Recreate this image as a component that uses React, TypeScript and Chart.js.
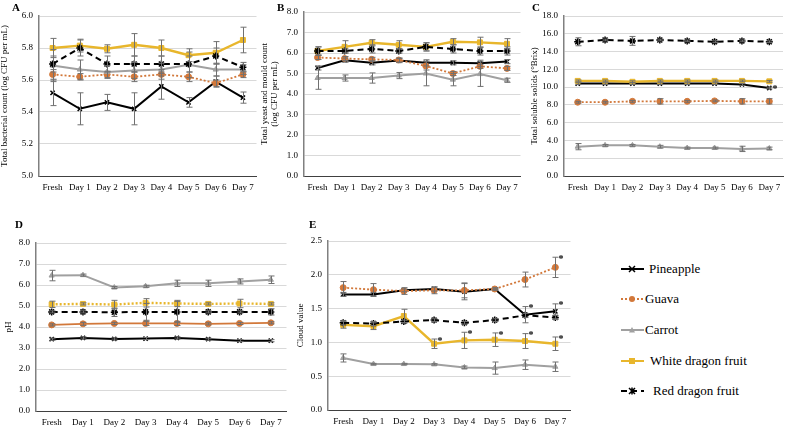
import React, { useEffect, useRef } from 'react';
import { Chart, registerables } from 'chart.js';
Chart.register(...registerables);

const FONT = '"Liberation Serif", "Times New Roman", serif';

// ---- categories / labels ----
const days = ['Fresh', 'Day 1', 'Day 2', 'Day 3', 'Day 4', 'Day 5', 'Day 6', 'Day 7'];
const seriesNames = ['Pineapple', 'Guava', 'Carrot', 'White dragon fruit', 'Red dragon fruit'];

// ---- Panel A: total bacterial count ----
const aPine = [5.52, 5.42, 5.46, 5.42, 5.56, 5.46, 5.59, 5.49];
const aPineErr = [0.08, 0.1, 0.05, 0.1, 0.08, 0.03, 0.035, 0.035];
const aGuava = [5.635, 5.62, 5.635, 5.62, 5.635, 5.62, 5.58, 5.635];
const aGuavaErr = [0.03, 0.02, 0.02, 0.03, 0.03, 0.03, 0.02, 0.02];
const aCarrot = [5.69, 5.665, 5.65, 5.66, 5.665, 5.695, 5.665, 5.665];
const aCarrotErr = [0.1, 0.06, 0.04, 0.05, 0.04, 0.08, 0.04, 0.03];
const aWhite = [5.8, 5.815, 5.795, 5.82, 5.8, 5.755, 5.77, 5.85];
const aWhiteErr = [0.06, 0.04, 0.025, 0.07, 0.05, 0.04, 0.07, 0.08];
const aRed = [5.7, 5.8, 5.7, 5.7, 5.7, 5.7, 5.75, 5.68];
const aRedErr = [0.05, 0.05, 0.05, 0.05, 0.05, 0.05, 0.05, 0.03];

// ---- Panel B: total yeast and mould count ----
const bPine = [5.27, 5.65, 5.52, 5.63, 5.52, 5.52, 5.5, 5.58];
const bPineErr = [0.1, 0.1, 0.1, 0.1, 0.15, 0.1, 0.15, 0.1];
const bGuava = [5.78, 5.73, 5.69, 5.66, 5.37, 5.0, 5.35, 5.25];
const bGuavaErr = [0.1, 0.1, 0.1, 0.1, 0.2, 0.1, 0.1, 0.1];
const bCarrot = [4.78, 4.78, 4.78, 4.9, 5.0, 4.7, 4.97, 4.67];
const bCarrotErr = [0.55, 0.15, 0.25, 0.15, 0.6, 0.3, 0.6, 0.1];
const bWhite = [6.1, 6.3, 6.5, 6.4, 6.3, 6.55, 6.52, 6.45];
const bWhiteErr = [0.2, 0.3, 0.15, 0.2, 0.2, 0.15, 0.25, 0.25];
const bRed = [6.1, 6.1, 6.2, 6.1, 6.3, 6.2, 6.1, 6.1];
const bRedErr = [0.2, 0.1, 0.2, 0.1, 0.2, 0.2, 0.2, 0.2];

// ---- Panel C: total soluble solids ----
const cPine = [10.4, 10.4, 10.4, 10.4, 10.4, 10.4, 10.3, 9.9];
const cPineErr = [0.1, 0.1, 0.1, 0.1, 0.1, 0.1, 0.1, 0.1];
const cGuava = [8.3, 8.3, 8.4, 8.4, 8.4, 8.45, 8.4, 8.4];
const cGuavaErr = [0.1, 0.1, 0.1, 0.3, 0.1, 0.1, 0.3, 0.3];
const cCarrot = [3.3, 3.45, 3.45, 3.3, 3.15, 3.15, 3.05, 3.1];
const cCarrotErr = [0.35, 0.1, 0.1, 0.15, 0.1, 0.1, 0.3, 0.15];
const cWhite = [10.7, 10.7, 10.6, 10.7, 10.7, 10.7, 10.7, 10.65];
const cWhiteErr = [0.1, 0.1, 0.1, 0.1, 0.1, 0.1, 0.1, 0.1];
const cRed = [15.1, 15.3, 15.2, 15.3, 15.2, 15.1, 15.2, 15.1];
const cRedErr = [0.45, 0.1, 0.5, 0.1, 0.1, 0.1, 0.1, 0.1];
const cPineStars = [7];

// ---- Panel D: pH ----
const dPine = [3.42, 3.48, 3.43, 3.45, 3.48, 3.42, 3.35, 3.35];
const dPineErr = [0.05, 0.05, 0.05, 0.05, 0.05, 0.05, 0.05, 0.05];
const dGuava = [4.1, 4.15, 4.17, 4.17, 4.17, 4.15, 4.17, 4.2];
const dGuavaErr = [0.05, 0.07, 0.05, 0.1, 0.1, 0.05, 0.05, 0.05];
const dCarrot = [6.45, 6.47, 5.88, 5.94, 6.08, 6.08, 6.17, 6.25];
const dCarrotErr = [0.25, 0.05, 0.05, 0.05, 0.15, 0.15, 0.12, 0.18];
const dWhite = [5.08, 5.1, 5.07, 5.15, 5.12, 5.1, 5.12, 5.1];
const dWhiteErr = [0.15, 0.05, 0.2, 0.2, 0.15, 0.05, 0.2, 0.05];
const dRed = [4.72, 4.72, 4.7, 4.72, 4.72, 4.72, 4.72, 4.72];
const dRedErr = [0.05, 0.05, 0.2, 0.4, 0.5, 0.05, 0.05, 0.15];

// ---- Panel E: cloud value ----
const ePine = [1.71, 1.71, 1.77, 1.79, 1.75, 1.79, 1.41, 1.46];
const ePineErr = [0.03, 0.03, 0.02, 0.03, 0.12, 0.01, 0.12, 0.11];
const eGuava = [1.81, 1.78, 1.76, 1.77, 1.77, 1.79, 1.93, 2.11];
const eGuavaErr = [0.09, 0.09, 0.05, 0.05, 0.11, 0.02, 0.11, 0.15];
const eCarrot = [0.77, 0.68, 0.68, 0.675, 0.63, 0.62, 0.67, 0.64];
const eCarrotErr = [0.06, 0.01, 0.01, 0.01, 0.02, 0.09, 0.07, 0.07];
const eWhite = [1.26, 1.24, 1.39, 0.98, 1.03, 1.04, 1.02, 0.98];
const eWhiteErr = [0.05, 0.05, 0.1, 0.07, 0.12, 0.1, 0.11, 0.1];
const eRed = [1.29, 1.28, 1.31, 1.33, 1.29, 1.33, 1.4, 1.37];
const eRedErr = [0.03, 0.03, 0.02, 0.02, 0.02, 0.02, 0.03, 0.03];
const ePineStars = [6, 7];
const eGuavaStars = [7];
const eWhiteStars = [3, 4, 5, 6, 7];

// ---- styles ----
const BLACK = '#000000';
const ORANGE = '#D2783A';
const GRAY = '#A0A0A0';
const YELLOW = '#E8B62C';

type Style = { color: string; width: number; dash: number[]; point: string; r: number; order: number };
const baseStyles: Style[] = [
  { color: BLACK, width: 2, dash: [], point: 'crossRot', r: 3, order: 4 },
  { color: ORANGE, width: 1.8, dash: [2, 2], point: 'circle', r: 3, order: 3 },
  { color: GRAY, width: 2, dash: [], point: 'triangle', r: 3, order: 2 },
  { color: YELLOW, width: 2.4, dash: [], point: 'rect', r: 3.5, order: 1 },
  { color: BLACK, width: 2, dash: [6, 4], point: 'star', r: 3.5, order: 0 },
];
const dStyles: Style[] = baseStyles.map((s, i) =>
  i === 1 ? { ...s, dash: [] } : i === 3 ? { ...s, dash: [2, 2] } : s
);

function makeDataset(i: number, data: number[], errors: number[], styles: Style[], stars: number[] = []) {
  const s = styles[i];
  return {
    label: seriesNames[i],
    data,
    errors,
    stars,
    borderColor: s.color,
    backgroundColor: s.color,
    borderWidth: s.width,
    borderDash: s.dash,
    pointStyle: s.point,
    pointRadius: s.r,
    pointBorderColor: s.color,
    pointBackgroundColor: s.color,
    pointBorderWidth: s.point === 'crossRot' || s.point === 'star' ? 1.5 : 1,
    tension: 0,
    order: s.order,
    clip: false as any,
  };
}

const errorBarPlugin = {
  id: 'errorBars',
  afterDatasetsDraw(chart: any) {
    const ctx = chart.ctx;
    const y = chart.scales.y;
    chart.data.datasets.forEach((ds: any, i: number) => {
      const meta = chart.getDatasetMeta(i);
      const errs: number[] = ds.errors || [];
      const stars: number[] = ds.stars || [];
      ctx.save();
      ctx.strokeStyle = '#707070';
      ctx.lineWidth = 1;
      ctx.setLineDash([]);
      meta.data.forEach((pt: any, j: number) => {
        const v = ds.data[j];
        const e = errs[j] || 0;
        const top = y.getPixelForValue(v + e);
        const bot = y.getPixelForValue(v - e);
        const x = Math.round(pt.x) + 0.5;
        if (e > 0) {
          ctx.beginPath();
          ctx.moveTo(x, top);
          ctx.lineTo(x, bot);
          ctx.moveTo(x - 3, top);
          ctx.lineTo(x + 3, top);
          ctx.moveTo(x - 3, bot);
          ctx.lineTo(x + 3, bot);
          ctx.stroke();
        }
        if (stars.includes(j)) {
          ctx.fillStyle = '#000';
          ctx.font = 'bold 10px ' + FONT;
          ctx.textAlign = 'left';
          ctx.textBaseline = 'middle';
          ctx.fillText('*', x + 3, top + 2);
        }
      });
      ctx.restore();
    });
  },
};

type PanelCfg = {
  left: number; top: number; width: number; height: number;
  yW: number; xH: number; padTop: number; padRight: number;
  min: number; max: number; step: number;
  title: string | string[]; titlePad: number;
  datasets: any[];
};

const panelA = (): PanelCfg => ({
  left: 0, top: 0, width: 262, height: 200, yW: 39, xH: 24, padTop: 16, padRight: 4,
  min: 5, max: 6, step: 0.2, title: 'Total bacterial count (log CFU per mL)', titlePad: 0,
  datasets: [
    makeDataset(0, aPine, aPineErr, baseStyles),
    makeDataset(1, aGuava, aGuavaErr, baseStyles),
    makeDataset(2, aCarrot, aCarrotErr, baseStyles),
    makeDataset(3, aWhite, aWhiteErr, baseStyles),
    makeDataset(4, aRed, aRedErr, baseStyles),
  ],
});
const panelB = (): PanelCfg => ({
  left: 258, top: 0, width: 268, height: 200, yW: 46, xH: 24, padTop: 12, padRight: 4,
  min: 0, max: 8, step: 1, title: ['Total yeast and mould count', '(log CFU per mL)'], titlePad: 2,
  datasets: [
    makeDataset(0, bPine, bPineErr, baseStyles),
    makeDataset(1, bGuava, bGuavaErr, baseStyles),
    makeDataset(2, bCarrot, bCarrotErr, baseStyles),
    makeDataset(3, bWhite, bWhiteErr, baseStyles),
    makeDataset(4, bRed, bRedErr, baseStyles),
  ],
});
const panelC = (): PanelCfg => ({
  left: 522, top: 0, width: 267, height: 200, yW: 42, xH: 24, padTop: 16, padRight: 6,
  min: 0, max: 18, step: 2, title: 'Total soluble solids (°Brix)', titlePad: 8,
  datasets: [
    makeDataset(0, cPine, cPineErr, baseStyles, cPineStars),
    makeDataset(1, cGuava, cGuavaErr, baseStyles),
    makeDataset(2, cCarrot, cCarrotErr, baseStyles),
    makeDataset(3, cWhite, cWhiteErr, baseStyles),
    makeDataset(4, cRed, cRedErr, baseStyles),
  ],
});
const panelD = (): PanelCfg => ({
  left: 0, top: 205, width: 292, height: 223, yW: 36, xH: 17, padTop: 38, padRight: 4,
  min: 0, max: 8, step: 1, title: 'pH', titlePad: 4,
  datasets: [
    makeDataset(0, dPine, dPineErr, dStyles),
    makeDataset(1, dGuava, dGuavaErr, dStyles),
    makeDataset(2, dCarrot, dCarrotErr, dStyles),
    makeDataset(3, dWhite, dWhiteErr, dStyles),
    makeDataset(4, dRed, dRedErr, dStyles),
  ],
});
const panelE = (): PanelCfg => ({
  left: 292, top: 205, width: 284, height: 223, yW: 36, xH: 18, padTop: 36, padRight: 4,
  min: 0, max: 2.5, step: 0.5, title: 'Cloud value', titlePad: 4,
  datasets: [
    makeDataset(0, ePine, ePineErr, baseStyles, ePineStars),
    makeDataset(1, eGuava, eGuavaErr, baseStyles, eGuavaStars),
    makeDataset(2, eCarrot, eCarrotErr, baseStyles),
    makeDataset(3, eWhite, eWhiteErr, baseStyles, eWhiteStars),
    makeDataset(4, eRed, eRedErr, baseStyles),
  ],
});

function Panel({ make }: { make: () => PanelCfg }) {
  const ref = useRef<HTMLCanvasElement>(null);
  const cfg = make();
  useEffect(() => {
    if (!ref.current) return;
    const p = make();
    const chart = new Chart(ref.current, {
      type: 'line',
      data: { labels: days, datasets: p.datasets },
      plugins: [errorBarPlugin],
      options: {
        animation: false,
        responsive: false,
        devicePixelRatio: 1,
        events: [],
        layout: { padding: { left: 0, top: p.padTop, right: p.padRight, bottom: 0 } },
        plugins: { legend: { display: false }, tooltip: { enabled: false } },
        scales: {
          x: {
            type: 'category',
            offset: true,
            grid: { display: false, drawTicks: false },
            border: { display: true, color: '#404040', width: 1 },
            ticks: { color: '#000', font: { family: FONT, size: 9 }, maxRotation: 0, autoSkip: false, padding: 6 },
            afterFit: (s: any) => { s.height = p.xH; },
          },
          y: {
            min: p.min,
            max: p.max,
            ticks: {
              stepSize: p.step,
              color: '#000',
              font: { family: FONT, size: 9 },
              padding: 6,
              callback: (v: any) => Number(v).toFixed(1),
            },
            grid: { color: '#D9D9D9', lineWidth: 1, drawTicks: false },
            border: { color: '#808080', width: 1.5 },
            title: {
              display: true,
              text: p.title,
              color: '#000',
              font: { family: FONT, size: 9, lineHeight: 1.1 },
              padding: { top: p.titlePad, bottom: 0 },
            },
            afterFit: (s: any) => { s.width = p.yW; },
          },
        },
      } as any,
    });
    return () => chart.destroy();
  }, []);
  return (
    <canvas
      ref={ref}
      width={cfg.width}
      height={cfg.height}
      style={{ position: 'absolute', left: cfg.left, top: cfg.top, width: cfg.width, height: cfg.height }}
    />
  );
}

const letters = [
  { t: 'A', x: 12, y: 1 },
  { t: 'B', x: 277, y: 1 },
  { t: 'C', x: 532, y: 1 },
  { t: 'D', x: 15, y: 218 },
  { t: 'E', x: 309, y: 218 },
];

function LegendMarker({ i }: { i: number }) {
  const s = baseStyles[i];
  const cx = 11, cy = 5;
  let marker: any = null;
  if (s.point === 'crossRot') {
    marker = <path d={`M${cx - 3} ${cy - 3}L${cx + 3} ${cy + 3}M${cx - 3} ${cy + 3}L${cx + 3} ${cy - 3}`} stroke={s.color} strokeWidth={1.5} />;
  } else if (s.point === 'circle') {
    marker = <circle cx={cx} cy={cy} r={3} fill={s.color} />;
  } else if (s.point === 'triangle') {
    marker = <path d={`M${cx} ${cy - 3}L${cx + 3} ${cy + 2.5}L${cx - 3} ${cy + 2.5}Z`} fill={s.color} />;
  } else if (s.point === 'rect') {
    marker = <rect x={cx - 3} y={cy - 3} width={6} height={6} fill={s.color} />;
  } else {
    marker = <path d={`M${cx - 3} ${cy - 3}L${cx + 3} ${cy + 3}M${cx - 3} ${cy + 3}L${cx + 3} ${cy - 3}M${cx} ${cy - 3.5}L${cx} ${cy + 3.5}`} stroke={s.color} strokeWidth={1.5} />;
  }
  return (
    <svg width={23} height={10} style={{ display: 'block' }}>
      <line x1={0} y1={cy} x2={23} y2={cy} stroke={s.color} strokeWidth={2} strokeDasharray={s.dash.length ? s.dash.join(' ') : undefined} />
      {marker}
    </svg>
  );
}

const legendRows = [
  { y: 269, tx: 649 },
  { y: 299, tx: 645 },
  { y: 330, tx: 645 },
  { y: 361, tx: 650 },
  { y: 391, tx: 653 },
];

export default function App() {
  return (
    <div style={{ position: 'absolute', left: 0, top: 0, width: 789, height: 428, background: '#fff', overflow: 'hidden', fontFamily: FONT }}>
      <Panel make={panelA} />
      <Panel make={panelB} />
      <Panel make={panelC} />
      <Panel make={panelD} />
      <Panel make={panelE} />
      {letters.map((l) => (
        <div key={l.t} style={{ position: 'absolute', left: l.x, top: l.y, fontWeight: 'bold', fontSize: 11, lineHeight: '12px', color: '#000' }}>{l.t}</div>
      ))}
      {seriesNames.map((n, i) => (
        <React.Fragment key={n}>
          <div style={{ position: 'absolute', left: 621, top: legendRows[i].y - 5 }}>
            <LegendMarker i={i} />
          </div>
          <div style={{ position: 'absolute', left: legendRows[i].tx, top: legendRows[i].y - 9, fontSize: 13, lineHeight: '17px', color: '#000', whiteSpace: 'nowrap' }}>{n}</div>
        </React.Fragment>
      ))}
    </div>
  );
}
